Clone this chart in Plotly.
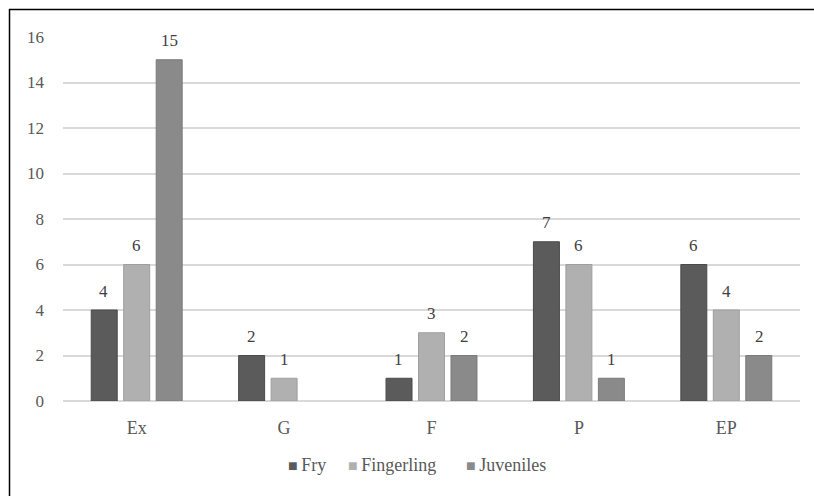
import plotly.graph_objects as go

# Data
categories = ["Ex", "G", "F", "P", "EP"]
fry = [4, 2, 1, 7, 6]
fingerling = [6, 1, 3, 6, 4]
juveniles = [15, 0, 2, 1, 2]

series_names = ["Fry", "Fingerling", "Juveniles"]
series_values = [fry, fingerling, juveniles]
series_colors = ["#5b5b5b", "#b0b0b0", "#8a8a8a"]
series_lines = ["#4a4a4a", "#9e9e9e", "#7a7a7a"]

FONT = "Liberation Serif, Times New Roman, serif"
TEXT_COLOR = "#595959"

fig = go.Figure()
for name, vals, col, lc in zip(series_names, series_values, series_colors, series_lines):
    fig.add_trace(go.Bar(
        name=name, x=categories, y=vals,
        marker=dict(color=col,
                    line=dict(color=lc, width=[1 if v else 0 for v in vals])),
    ))

# Value labels above each bar (zero-height bars carry no label)
pitch = 32.7
for j, vals in enumerate(series_values):
    for cat, v in zip(categories, vals):
        if v == 0:
            continue
        fig.add_annotation(
            x=cat, y=v, xref="x", yref="y", text=str(v), showarrow=False,
            xshift=(j - 1) * pitch, yshift=19, yanchor="middle",
            font=dict(family=FONT, size=17, color="#404040"),
        )

# Plot-area geometry in pixels
L, R, T, B = 63, 14, 37, 95
W, H = 814, 496
pw, ph = W - L - R, H - T - B
def px_x(v):
    return (v - L) / pw
def px_y(v):
    return (H - B - v) / ph

# Chart frame: left and top edges
fig.add_shape(type="line", xref="paper", yref="paper",
              x0=px_x(9.5), x1=px_x(9.5), y0=px_y(9), y1=px_y(H + 2),
              line=dict(color="#000000", width=1.5))
fig.add_shape(type="line", xref="paper", yref="paper",
              x0=px_x(9), x1=px_x(W + 2), y0=px_y(9.5), y1=px_y(9.5),
              line=dict(color="#000000", width=1.5))

# Legend row: small square key followed by the series name
legend_left = [286, 346, 464]
for name, col, xl in zip(series_names, series_colors, legend_left):
    fig.add_annotation(
        x=px_x(xl), y=px_y(465), xref="paper", yref="paper",
        xanchor="left", yanchor="middle", showarrow=False,
        text=f"<span style='color:{col};font-size:16px'>■</span>\u2009{name}",
        font=dict(family=FONT, size=18, color=TEXT_COLOR),
    )

fig.update_layout(
    width=W, height=H,
    margin=dict(l=L, r=R, t=T, b=B),
    paper_bgcolor="white", plot_bgcolor="white",
    barmode="group", bargap=0.339, bargroupgap=0.2,
    font=dict(family=FONT, color=TEXT_COLOR, size=17),
    showlegend=False,
)
fig.update_xaxes(showgrid=False, showline=False, ticks="", ticklabelstandoff=14,
                 tickfont=dict(family=FONT, size=18, color=TEXT_COLOR))
fig.update_yaxes(range=[0, 16], dtick=2, showgrid=True, gridcolor="#d9d9d9", gridwidth=1.5,
                 zeroline=True, zerolinecolor="#d9d9d9", zerolinewidth=1.5,
                 showline=False, ticks="", ticklabelstandoff=18,
                 tickfont=dict(family=FONT, size=17, color=TEXT_COLOR))

fig.write_html("out.html")
